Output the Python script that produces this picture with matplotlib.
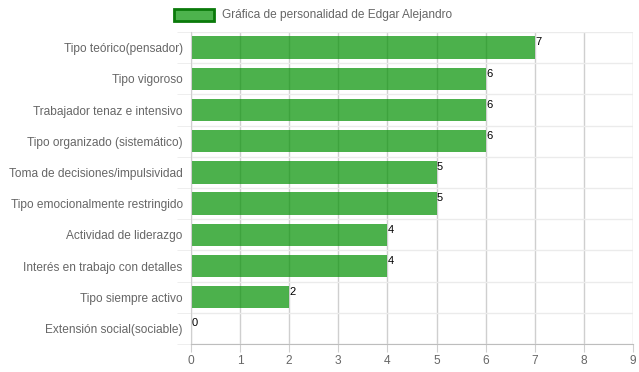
import matplotlib
matplotlib.use("Agg")
import matplotlib.pyplot as plt
import numpy as np
from matplotlib.patches import Rectangle

plt.rcParams['font.family'] = ['Liberation Sans', 'DejaVu Sans']

categorias = ["Tipo teórico(pensador)", "Tipo vigoroso", "Trabajador tenaz e intensivo",
              "Tipo organizado (sistemático)", "Toma de decisiones/impulsividad",
              "Tipo emocionalmente restringido", "Actividad de liderazgo",
              "Interés en trabajo con detalles", "Tipo siempre activo",
              "Extensión social(sociable)"]
valores = [7, 6, 6, 6, 5, 5, 4, 4, 2, 0]
etiqueta = "Gráfica de personalidad de Edgar Alejandro"

fig = plt.figure(figsize=(6.39, 3.72), dpi=100)
ax = fig.add_axes([191/639, 1-344/372, 442/639, 312/372])

y = np.arange(len(categorias))
ax.barh(y, valores, height=0.72, color=(0, 145/255, 0), alpha=0.7, zorder=2)
for yi, v in zip(y, valores):
    ax.text(v + 0.01, yi - 0.33, str(v), ha='left', va='top', fontsize=8,
            color='black', zorder=3)

ax.set_xlim(0, 9)
ax.set_ylim(len(categorias) - 0.5, -0.5)
ax.set_xticks(range(10))
ax.set_yticks(y)
ax.set_yticklabels(categorias)
ax.set_yticks(np.arange(-0.5, len(categorias)), minor=True)

ax.grid(axis='x', color='#cfcfcf', linewidth=1, zorder=1)
ax.grid(axis='y', which='minor', color='#ebebeb', linewidth=1, zorder=1)
ax.tick_params(axis='x', length=6, color='#cfcfcf', labelcolor='#666666', labelsize=8.6, pad=2)
ax.tick_params(axis='y', which='major', length=0, labelcolor='#666666', labelsize=8.6, pad=6)
ax.tick_params(axis='y', which='minor', length=10, color='#ebebeb')
for s in ['top', 'right']:
    ax.spines[s].set_visible(False)
ax.spines['left'].set_color('#cfcfcf')
ax.spines['bottom'].set_color('#bdbdbd')
ax.set_axisbelow(True)

# leyenda
fig.patches.append(Rectangle((174/639, 1-21/372), 40/639, 12/372, transform=fig.transFigure,
                             facecolor=(0.30, 0.70, 0.30), edgecolor='#0a7a0a', linewidth=2))
fig.text(222/639, 1-15/372, etiqueta, ha='left', va='center', fontsize=8.6, color='#666666')

fig.savefig("out.png", dpi=100)
